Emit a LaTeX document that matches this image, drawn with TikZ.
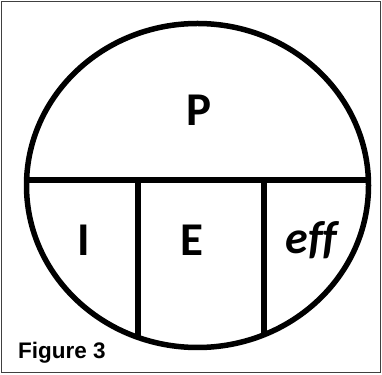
\documentclass[tikz,border=0pt]{standalone}
\usepackage{fontspec}
\setmainfont{Carlito}
\newfontfamily\figfont{Liberation Sans}
\begin{document}
\begin{tikzpicture}[x=1pt,y=1pt,
  part/.style={line width=5.5pt,black},
  lbl/.style={font=\bfseries\fontsize{47}{47}\selectfont,inner sep=0pt,anchor=base},
  figcaption/.style={font=\figfont\bfseries\fontsize{22.5}{22.5}\selectfont,inner sep=0pt,anchor=base west}]
\useasboundingbox (0,0) rectangle (382,374);
\draw[line width=1pt,black!75] (1.5,1.5) rectangle (380.5,372.5);
\coordinate (c) at (197.5,188.5);
\begin{scope}
  \clip (c) ellipse [x radius=171, y radius=162];
  \draw[part] (0,194) -- (382,194);
  \draw[part] (138,194) -- (138,0);
  \draw[part] (264,194) -- (264,0);
\end{scope}
\draw[part] (c) ellipse [x radius=171, y radius=162];
\node[lbl] (P) at (199,248) {P};
\node[lbl] (I) at (84,118) {I};
\node[lbl] (E) at (192,118) {E};
\node[lbl,font=\bfseries\itshape\fontsize{46}{46}\selectfont] (eff) at (311,120) {e\kern0.5pt f\kern-1pt f};
\node[figcaption] (fig) at (18,16) {Figure 3};
\end{tikzpicture}
\end{document}
